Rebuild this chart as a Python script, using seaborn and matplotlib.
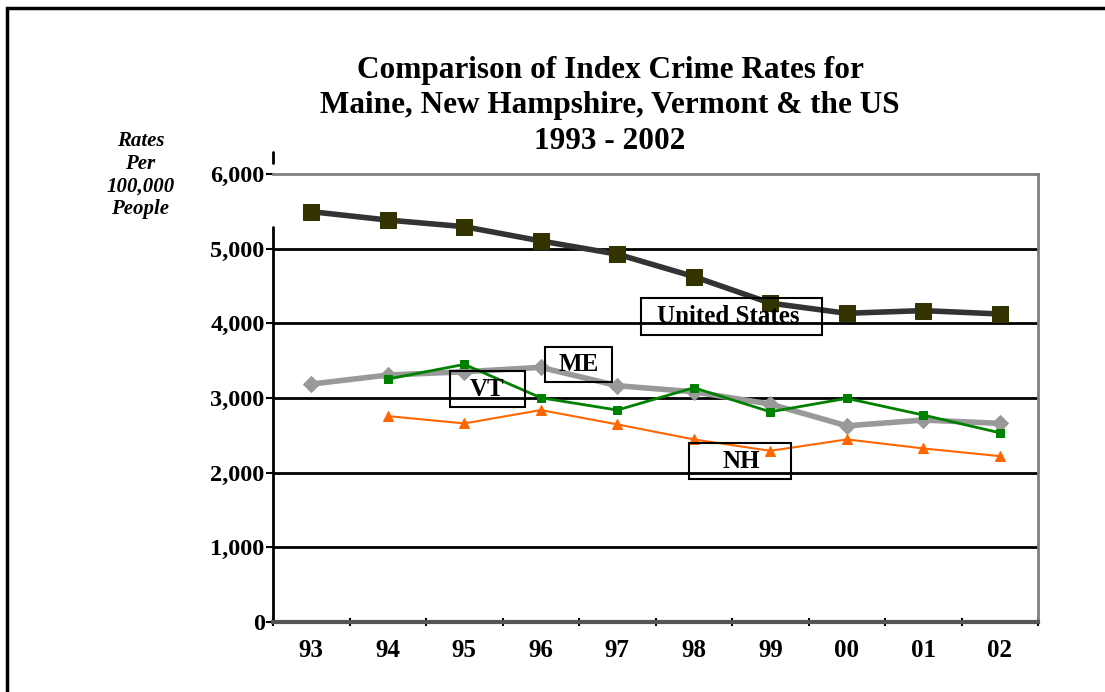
import numpy as np
import pandas as pd
import matplotlib
matplotlib.use('Agg')
import matplotlib.pyplot as plt
import seaborn as sns
from matplotlib.patches import Rectangle

# Data
years = ['93', '94', '95', '96', '97', '98', '99', '00', '01', '02']
us = [5495, 5383, 5294, 5103, 4926, 4626, 4270, 4134, 4170, 4125]
me = [3186, 3307, 3351, 3410, 3164, 3083, 2918, 2627, 2704, 2660]
vt = [np.nan, 3253, 3450, 3003, 2838, 3137, 2815, 2995, 2771, 2534]
nh = [np.nan, 2757, 2659, 2838, 2646, 2445, 2292, 2445, 2324, 2221]
y_ticks = [0, 1000, 2000, 3000, 4000, 5000, 6000]

sns.set_theme(style='white')
plt.rcParams['font.family'] = ['Liberation Serif', 'DejaVu Serif']
plt.rcParams['font.weight'] = 'bold'
plt.rcParams['text.color'] = 'black'
plt.rcParams['xtick.color'] = 'black'
plt.rcParams['ytick.color'] = 'black'

fig = plt.figure(figsize=(11.05, 6.92), dpi=100)
ax = fig.add_axes([0.2471, 0.1012, 0.6923, 0.6474])

df = pd.DataFrame({'pos': np.arange(len(years)), 'US': us, 'ME': me, 'VT': vt, 'NH': nh})

sns.lineplot(data=df, x='pos', y='ME', ax=ax, color='#999999', lw=4, marker='D',
             markersize=8, markeredgecolor='#999999', zorder=3)
sns.lineplot(data=df, x='pos', y='NH', ax=ax, color='#FF6600', lw=1.5, marker='^',
             markersize=7, markeredgecolor='#FF6600', zorder=4)
sns.lineplot(data=df, x='pos', y='VT', ax=ax, color='#008000', lw=2, marker='s',
             markersize=6, markeredgecolor='#008000', zorder=5)
sns.lineplot(data=df, x='pos', y='US', ax=ax, color='#333333', lw=4, marker='s',
             markersize=11, markerfacecolor='#333300', markeredgecolor='#333300', zorder=6)

ax.set_xlim(-0.5, len(years) - 0.5)
ax.set_ylim(0, 6000)
ax.set_xlabel('')
ax.set_ylabel('')

# gridlines
for v in y_ticks[1:-1]:
    ax.axhline(v, color='black', lw=2, zorder=1)

ax.set_xticks(np.arange(len(years)))
ax.set_xticklabels(years, fontsize=18, fontweight='bold')
ax.set_xticks(np.arange(-0.5, len(years)), minor=True)
ax.tick_params(axis='x', which='major', length=0, pad=12)
ax.tick_params(axis='x', which='minor', length=6, width=1.5, direction='inout', color='black', bottom=True)
ax.set_yticks(y_ticks)
ax.set_yticklabels([f'{v:,}' for v in y_ticks], fontsize=17.5, fontweight='bold')
ax.tick_params(axis='y', length=5, width=1.5, color='black', left=True, pad=1)

for s in ['top', 'right']:
    ax.spines[s].set_color('#808080')
    ax.spines[s].set_linewidth(2)
ax.spines['bottom'].set_color('#555555')
ax.spines['bottom'].set_linewidth(3)
ax.spines['left'].set_visible(False)
ax.plot([0, 0], [0, 0.881], transform=ax.transAxes, color='black', lw=2, clip_on=False)
ax.plot([0, 0], [1.024, 1.048], transform=ax.transAxes, color='black', lw=2, clip_on=False)

# series labels in boxes
labels = [
    ('United States', 4.314, 3843, 6.680, 4339, 5.45, 4090),
    ('ME', 3.059, 3213, 3.935, 3682, 3.50, 3448),
    ('VT', 1.817, 2878, 2.797, 3361, 2.30, 3120),
    ('NH', 4.941, 1913, 6.275, 2395, 5.62, 2154),
]
for txt, x0, y0, x1, y1, tx, ty in labels:
    ax.add_patch(Rectangle((x0, y0), x1 - x0, y1 - y0, fill=False, ec='black', lw=1.5, zorder=7))
    ax.text(tx, ty, txt, ha='center', va='center', fontsize=18, fontweight='bold', zorder=8)

fig.text(0.552, 0.847, 'Comparison of Index Crime Rates for\nMaine, New Hampshire, Vermont & the US\n1993 - 2002',
         ha='center', va='center', fontsize=22.5, fontweight='bold', linespacing=1.28)
fig.text(0.127, 0.747, 'Rates\nPer\n100,000\nPeople', ha='center', va='center', fontsize=15,
         fontweight='bold', style='italic', linespacing=1.17)

# outer frame
fig.add_artist(Rectangle((7 / 1105, -0.1), 1.2, 1 - 8 / 692 + 0.1, transform=fig.transFigure,
                         fill=False, ec='black', lw=2.5))

fig.savefig('out.png', dpi=100)
